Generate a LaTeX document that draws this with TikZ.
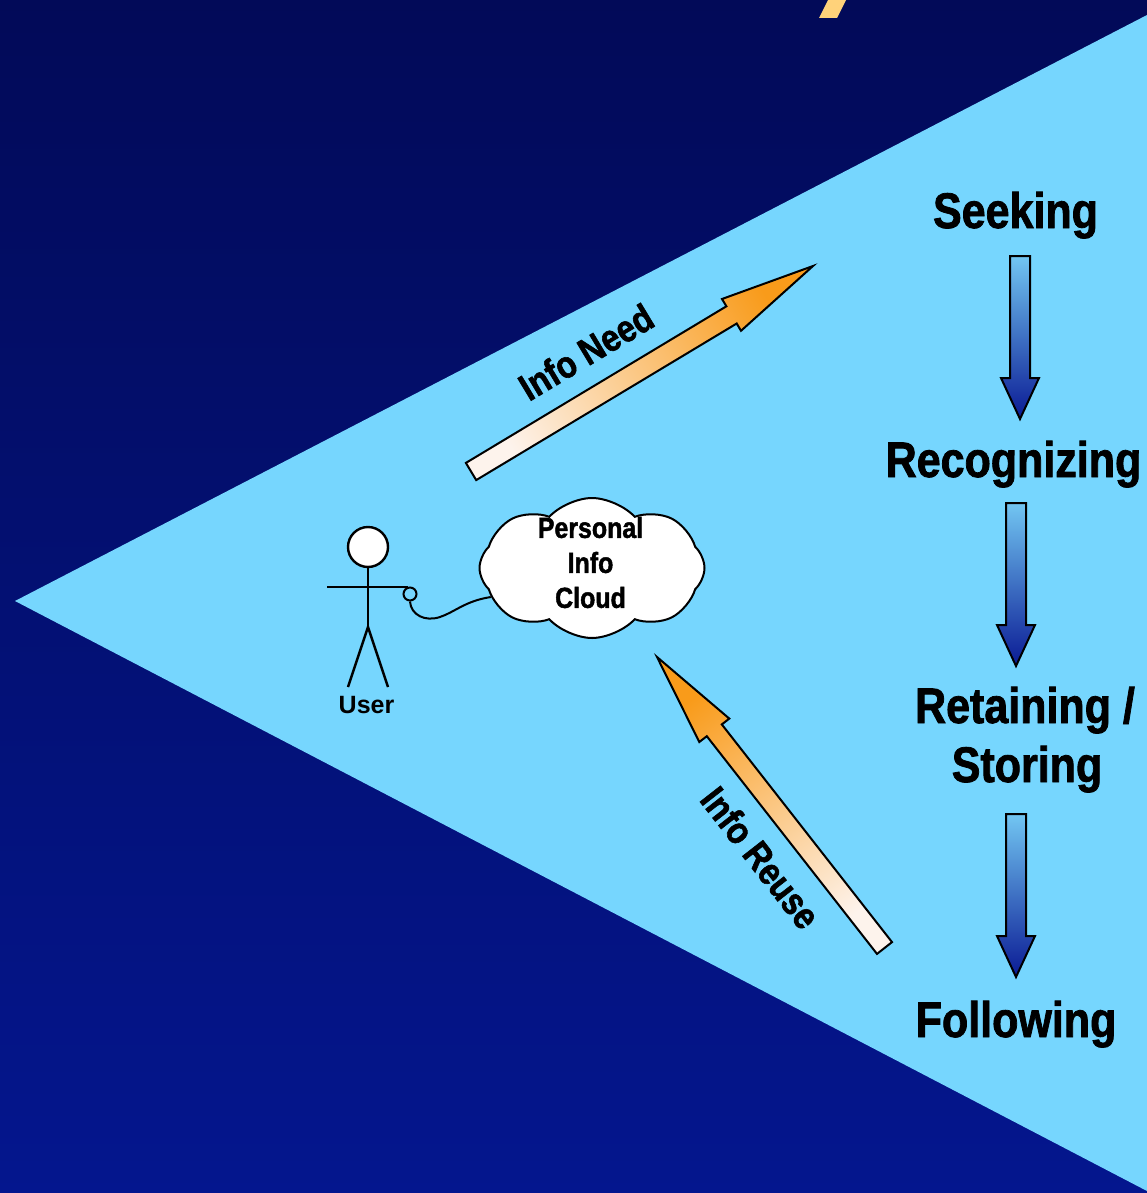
\documentclass[tikz,border=0pt]{standalone}
\usepackage{fontspec}
\setmainfont{Liberation Sans}
\newfontfamily\condfont{Liberation Sans}[FakeStretch=0.86, BoldFeatures={FakeBold=1.5}]
\usetikzlibrary{shapes.symbols}
\definecolor{bgtop}{HTML}{020A58}
\definecolor{bgbot}{HTML}{04168E}
\definecolor{tri}{HTML}{76D6FE}
\definecolor{ortip}{HTML}{F99B1A}
\definecolor{ortail}{HTML}{FDF3EC}
\definecolor{bltop}{HTML}{72C6F2}
\definecolor{blbot}{HTML}{0A1A94}
\definecolor{ymark}{HTML}{FFD27A}
\begin{document}
\begin{tikzpicture}[x=1pt,y=-1pt,
  stage/.style={font=\condfont\bfseries\fontsize{50}{59}\selectfont, anchor=base, inner sep=0pt, text=black},
  flowlbl/.style={font=\condfont\bfseries\fontsize{38}{44}\selectfont, anchor=base, inner sep=0pt, text=black},
  cloudlbl/.style={font=\condfont\bfseries\fontsize{29}{35}\selectfont, align=center, inner sep=0pt, text=black},
  userlbl/.style={font=\bfseries\fontsize{25}{30}\selectfont, anchor=base, inner sep=0pt, text=black},
  figline/.style={draw=black, line width=2.4pt},
  bigarrow/.style={draw=black, line width=2pt, line join=miter},
  blarrow/.pic={
    \path[draw=black, line width=2pt, top color=bltop, bottom color=blbot]
      (-10,0) -- (10,0) -- (10,122) -- (19,122) -- (0,163) -- (-19,122) -- (-10,122) -- cycle;
  }]
\useasboundingbox (0,0) rectangle (1147,1193);
% background
\path[top color=bgtop, bottom color=bgbot] (0,0) rectangle (1147,1193);
% yellow title fragment
\fill[ymark] (828,0) -- (846,0) -- (837,18) -- (819,18) -- cycle;
% light triangle
\fill[tri] (15,601) -- (1147,15) -- (1147,1191) -- cycle;

% stages
\node[stage] (seek) at (1015.5,228) {Seeking};
\node[stage] (recog) at (1013.5,477) {Recognizing};
\node[stage] (ret) at (1025,723) {Retaining /};
\node[stage] (sto) at (1027,782) {Storing};
\node[stage] (foll) at (1016,1037) {Following};

% stage arrows
\pic (a1) at (1020,256) {blarrow};
\pic (a2) at (1016,503) {blarrow};
\pic (a3) at (1016,814) {blarrow};

% Info Need arrow
\path[bigarrow, top color=ortip, bottom color=ortail, shading angle=-59]
  (465.9,462.9) -- (726.4,306.3) -- (722.0,299.0) -- (813,266) -- (741.0,330.8) -- (736.7,323.5) -- (476.2,480.1) -- cycle;
\node[flowlbl, rotate=31] (needlbl) at (593,363.5) {Info Need};

% Info Reuse arrow
\path[bigarrow, top color=ortip, bottom color=ortail, shading angle=38]
  (892.0,942.1) -- (721.8,724.4) -- (729.3,718.6) -- (657,657) -- (699.3,742.0) -- (706.8,736.2) -- (877.0,953.9) -- cycle;
\node[flowlbl, rotate=-52] (reuselbl) at (750,866) {Info Reuse};

% cloud
\node[cloud, cloud puffs=8, cloud puff arc=95, cloud ignores aspect, draw=black, fill=white, line width=2pt,
      minimum width=225pt, minimum height=140pt, inner sep=0pt] (cloud) at (592,568) {};
\node[cloudlbl] (cloudtxt) at (590.5,562.5) {Personal\\Info\\Cloud};

% user stick figure
\node[circle, figline, fill=white, minimum size=40pt, inner sep=0pt] (head) at (368,547) {};
\coordinate (hip) at (368,627);
\coordinate (larm) at (327,587);
\coordinate (rarm) at (408,587);
\coordinate (lfoot) at (348,687);
\coordinate (rfoot) at (388,687);
\draw[figline] (head.south) -- (hip);
\draw[figline] (larm) -- (rarm);
\draw[figline] (lfoot) -- (hip) -- (rfoot);
\node[circle, draw=black, line width=2pt, fill=tri, minimum size=13pt, inner sep=0pt] (hand) at (410,594) {};
\draw[line width=2pt] (hand.south) .. controls (411,615) and (425,622) .. (440,617)
   .. controls (455,612) and (465,601) .. (cloud.196);
\node[userlbl] (user) at (366.5,713) {User};
\end{tikzpicture}
\end{document}
